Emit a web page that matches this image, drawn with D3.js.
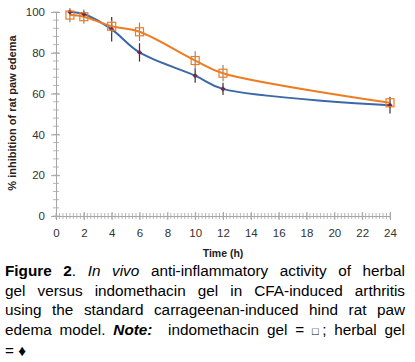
<!DOCTYPE html>
<html><head><meta charset="utf-8">
<script src="https://cdn.jsdelivr.net/npm/d3@7"></script>
<style>
body{margin:0;background:#fff;}
#cap{position:absolute;left:5px;top:261px;width:400px;font-family:"Liberation Sans",Arial,sans-serif;font-size:15.3px;line-height:19.6px;color:#000;}
#cap div{text-align:justify;text-align-last:justify;white-space:nowrap;}
#cap div.last{text-align-last:left;}
.sq{font-size:11px;}
</style></head>
<body>
<svg id="chart" width="415" height="262" style="position:absolute;left:0;top:0"></svg>
<div id="cap">
<div><b>Figure 2</b>. <i>In vivo</i> anti-inflammatory activity of herbal</div>
<div>gel versus indomethacin gel in CFA-induced arthritis</div>
<div>using the standard carrageenan-induced hind rat paw</div>
<div>edema model. <b><i>Note:</i></b>&nbsp; indomethacin gel = <span class="sq">&#9633;</span>; herbal gel</div>
<div class="last">= &#9830;</div>
</div>
<script>
const times = [1, 2, 4, 6, 10, 12, 24];
const indomethacin = [98.5, 97.7, 93, 90.3, 76.2, 70, 55.5];
const indomethacinErr = [3.5, 3.5, 3, 4.5, 4.5, 4, 3];
const herbal = [100, 99, 91.5, 80.2, 68.8, 62.3, 54.3];
const herbalErr = [1, 1.5, 6, 4.5, 3.5, 3, 4];
const xTicks = [0, 2, 4, 6, 8, 10, 12, 14, 16, 18, 20, 22, 24];
const yTicks = [0, 20, 40, 60, 80, 100];

const svg = d3.select("#chart");
const x = d3.scaleLinear().domain([0, 24]).range([56, 390]);
const y = d3.scaleLinear().domain([0, 100]).range([216, 12]);
const axisCol = "#a6a6a6";
const font = "'Liberation Sans', Arial, sans-serif";

const xMinor = d3.range(0, 24.001, 0.25);
svg.append("g").selectAll("line").data(xMinor).join("line")
  .attr("x1", d => x(d)).attr("x2", d => x(d))
  .attr("y1", y(0) - 3).attr("y2", y(0) + 3)
  .attr("stroke", axisCol).attr("stroke-width", 0.8);
const yMinor = d3.range(0, 100.001, 4);
svg.append("g").selectAll("line").data(yMinor).join("line")
  .attr("x1", x(0) - 3).attr("x2", x(0) + 3)
  .attr("y1", d => y(d)).attr("y2", d => y(d))
  .attr("stroke", axisCol).attr("stroke-width", 0.8);

const xAxis = d3.axisBottom(x).tickValues(xTicks).tickSize(4).tickSizeOuter(0).tickPadding(9);
const gx = svg.append("g").attr("transform", `translate(0,${y(0)})`).call(xAxis);
gx.select(".domain").attr("stroke", axisCol);
gx.selectAll(".tick line").attr("stroke", axisCol).attr("y1", -4);
gx.selectAll("text").attr("font-family", font).attr("font-size", 11.5).attr("fill", "#333");

const yAxis = d3.axisLeft(y).tickValues(yTicks).tickSize(5).tickSizeOuter(0).tickPadding(6);
const gy = svg.append("g").attr("transform", `translate(${x(0)},0)`).call(yAxis);
gy.select(".domain").attr("stroke", axisCol);
gy.selectAll(".tick line").attr("stroke", axisCol).attr("x1", 4);
gy.selectAll("text").attr("font-family", font).attr("font-size", 11.5).attr("fill", "#333");

svg.append("text").attr("transform", `translate(16,113) rotate(-90)`)
  .attr("text-anchor", "middle").attr("font-family", font).attr("font-size", 11)
  .attr("font-weight", "bold").attr("fill", "#222").text("% inhibition of rat paw edema");
svg.append("text").attr("x", 223).attr("y", 257).attr("text-anchor", "middle")
  .attr("font-family", font).attr("font-size", 10.5).attr("font-weight", "bold")
  .attr("fill", "#222").text("Time (h)");

const line = d3.line().x(d => x(d[0])).y(d => y(d[1])).curve(d3.curveCatmullRom.alpha(0.5));
const blue = "#3a68a8", orange = "#ee7d22";

function series(vals, errs, color, errColor) {
  const pts = times.map((t, i) => [t, vals[i], errs[i]]);
  svg.append("g").selectAll("line").data(pts).join("line")
    .attr("x1", d => x(d[0])).attr("x2", d => x(d[0]))
    .attr("y1", d => y(d[1] - d[2])).attr("y2", d => y(d[1] + d[2]))
    .attr("stroke", errColor).attr("stroke-width", 1.2);
  svg.append("path").datum(pts).attr("d", line).attr("fill", "none")
    .attr("stroke", color).attr("stroke-width", 2);
  return pts;
}
const pb = series(herbal, herbalErr, blue, "#333");
const po = series(indomethacin, indomethacinErr, orange, "#888");

svg.append("g").selectAll("path").data(pb).join("path")
  .attr("d", d3.symbol(d3.symbolDiamond2, 18))
  .attr("transform", d => `translate(${x(d[0])},${y(d[1])})`)
  .attr("fill", "#7a2848");
svg.append("g").selectAll("rect").data(po).join("rect")
  .attr("x", d => x(d[0]) - 4).attr("y", d => y(d[1]) - 4)
  .attr("width", 8).attr("height", 8)
  .attr("fill", "none").attr("stroke", orange).attr("stroke-width", 1.2);
</script>
</body></html>
